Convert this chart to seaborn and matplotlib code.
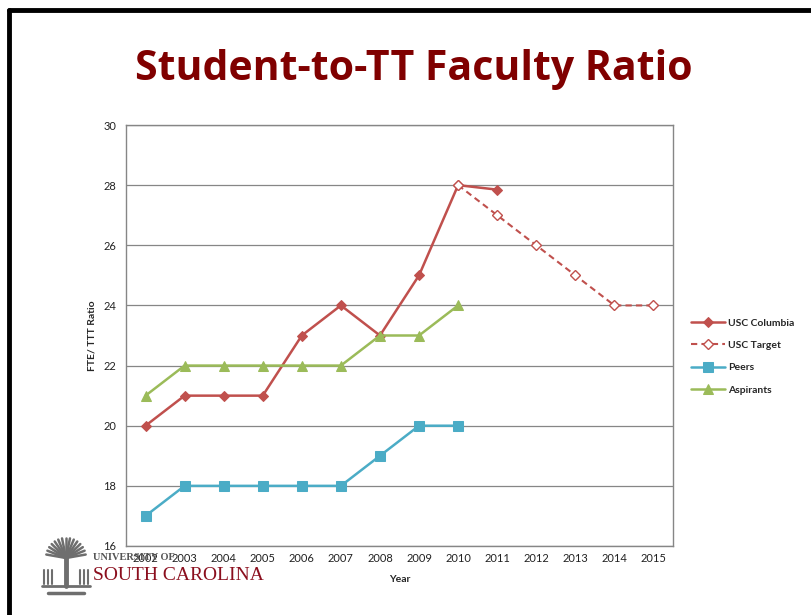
import matplotlib
matplotlib.use("Agg")
import matplotlib.pyplot as plt
import seaborn as sns
import numpy as np

years = list(range(2002, 2016))
col_years = [2002, 2003, 2004, 2005, 2006, 2007, 2008, 2009, 2010, 2011]
col_vals = [20, 21, 21, 21, 23, 24, 23, 25, 28, 27.85]
tgt_years = [2010, 2011, 2012, 2013, 2014, 2015]
tgt_vals = [28, 27, 26, 25, 24, 24]
peer_years = [2002, 2003, 2004, 2005, 2006, 2007, 2008, 2009, 2010]
peer_vals = [17, 18, 18, 18, 18, 18, 19, 20, 20]
asp_years = [2002, 2003, 2004, 2005, 2006, 2007, 2008, 2009, 2010]
asp_vals = [21, 22, 22, 22, 22, 22, 23, 23, 24]
y_ticks = [16, 18, 20, 22, 24, 26, 28, 30]

sns.set_style("white")
plt.rcParams['font.family'] = ['Lato', 'DejaVu Sans']

W, H = 812, 615
fig = plt.figure(figsize=(W / 100, H / 100), dpi=100)
ax = fig.add_axes([126 / W, 1 - 546 / H, 547 / W, 421 / H])

red = "#C0504D"
blue = "#4BACC6"
green = "#9BBB59"

sns.lineplot(x=col_years, y=col_vals, ax=ax, color=red, marker="D", markersize=5.5,
             markeredgecolor=red, linewidth=1.8, label="USC Columbia")
sns.lineplot(x=tgt_years, y=tgt_vals, ax=ax, color=red, marker="D", markersize=5.5,
             markerfacecolor="white", markeredgecolor=red, markeredgewidth=1.0,
             linewidth=1.5, linestyle=(0, (3, 2)), label="USC Target")
sns.lineplot(x=peer_years, y=peer_vals, ax=ax, color=blue, marker="s", markersize=7,
             markeredgecolor=blue, linewidth=1.8, label="Peers")
sns.lineplot(x=asp_years, y=asp_vals, ax=ax, color=green, marker="^", markersize=7.5,
             markeredgecolor=green, linewidth=1.8, label="Aspirants")

ax.set_xlim(2001.5, 2015.5)
ax.set_ylim(16, 30)
ax.set_yticks(y_ticks)
ax.set_yticklabels([str(v) for v in y_ticks], fontsize=8, color="#222222")
ax.set_xticks(years)
ax.set_xticklabels([str(y) for y in years], fontsize=8, color="#222222")
ax.set_xticks([y + 0.5 for y in years[:-1]] + [2001.5, 2015.5], minor=True)
ax.tick_params(axis="x", which="major", length=0, pad=5)
ax.tick_params(axis="x", which="minor", length=4, color="#868686", direction="out")
ax.tick_params(axis="y", which="major", length=4, color="#868686", direction="out", pad=3)
ax.grid(axis="y", color="#868686", linewidth=0.9)
ax.set_axisbelow(True)
for s in ax.spines.values():
    s.set_color("#868686")
    s.set_linewidth(1.0)

ax.set_xlabel("Year", fontsize=7.5, fontweight="bold", labelpad=8)
ax.set_ylabel("FTE/ TTT Ratio", fontsize=7.5, fontweight="bold", labelpad=5)

leg = ax.legend(loc="center left", bbox_to_anchor=(1.025, 0.45), frameon=False,
                fontsize=7.5, handlelength=3.3, labelspacing=1.25, handletextpad=0.25,
                borderaxespad=0)
for t in leg.get_texts():
    t.set_fontweight("bold")

fig.text(414 / W, 1 - 70 / H, "Student-to-TT Faculty Ratio", ha="center", va="center",
         fontsize=29.5, fontweight="bold", color="#800000", family=["Open Sans", "DejaVu Sans"])

# slide border (top and left edges visible)
fig.add_artist(plt.Line2D([9 / W, 1], [1 - 10 / H, 1 - 10 / H], color="black", linewidth=3.5,
                          transform=fig.transFigure))
fig.add_artist(plt.Line2D([9 / W, 9 / W], [0, 1 - 10 / H], color="black", linewidth=3.5,
                          transform=fig.transFigure))

# simple palmetto emblem (decorative)
gray = "#6e6e6e"
cx, cy = 66, 558
for ang in np.linspace(10, 170, 15):
    r = 20
    x2 = cx + r * np.cos(np.radians(ang))
    y2 = cy - r * np.sin(np.radians(ang))
    fig.add_artist(plt.Line2D([cx / W, x2 / W], [1 - cy / H, 1 - y2 / H], color=gray,
                              linewidth=1.8, transform=fig.transFigure))
fig.add_artist(plt.Line2D([66 / W, 66 / W], [1 - 555 / H, 1 - 586 / H], color=gray,
                          linewidth=3.5, transform=fig.transFigure))
for bx in [44, 48, 52, 80, 84, 88]:
    fig.add_artist(plt.Line2D([bx / W, bx / W], [1 - 570 / H, 1 - 584 / H], color=gray,
                              linewidth=1.5, transform=fig.transFigure))
fig.add_artist(plt.Line2D([42 / W, 90 / W], [1 - 586 / H, 1 - 586 / H], color=gray,
                          linewidth=2, transform=fig.transFigure))
fig.add_artist(plt.Line2D([48 / W, 84 / W], [1 - 593 / H, 1 - 593 / H], color=gray,
                          linewidth=2.5, transform=fig.transFigure))

# logo text
fig.text(93 / W, 1 - 558 / H, "UNIVERSITY OF", fontsize=7.5, color="#555555",
         fontweight="bold", family=["Liberation Serif"], ha="left", va="center")
fig.text(93 / W, 1 - 575 / H, "SOUTH CAROLINA", fontsize=14, color="#8B0F1E",
         family=["Liberation Serif"], ha="left", va="center")

fig.savefig("out.png", dpi=100)
